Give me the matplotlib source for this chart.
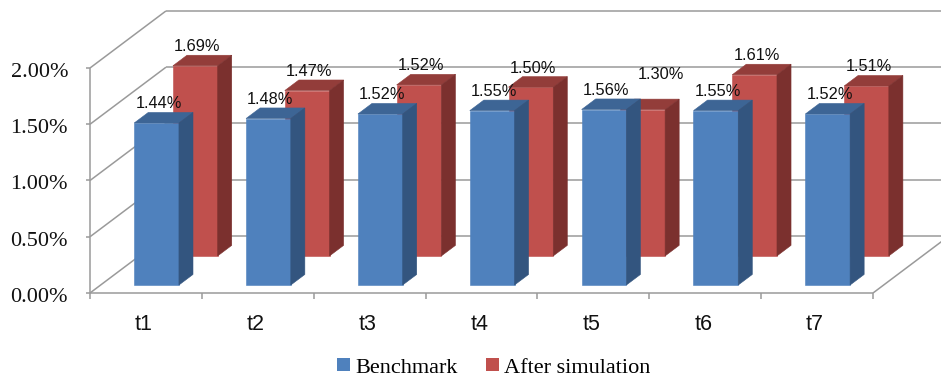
import matplotlib
matplotlib.use('Agg')
import matplotlib.pyplot as plt
from matplotlib.patches import Polygon, Patch

# Values in percent for each period
categories = ['t1', 't2', 't3', 't4', 't5', 't6', 't7']
benchmark = [1.44, 1.48, 1.52, 1.55, 1.56, 1.55, 1.52]
after_sim = [1.69, 1.47, 1.52, 1.50, 1.30, 1.61, 1.51]
y_ticks = [0.0, 0.5, 1.0, 1.5, 2.0]
series_names = ['Benchmark', 'After simulation']

# Oblique 3D look: a point at depth d (0 = front, 1 = back wall)
# is shifted right by DX categories and up by DY percent
DX = 0.679
DY = 0.507
BAR_W = 0.40
BAR_D = 0.185
n = len(categories)

fig = plt.figure(figsize=(9.41, 3.84), dpi=100)
ax = fig.add_axes([0, 0, 1, 1])
ax.set_xlim(-0.8046, 7.6077)
ax.set_ylim(-0.8089, 2.6044)
ax.axis('off')

grid_kw = dict(color='#9a9a9a', lw=1.1, solid_capstyle='butt', zorder=1)

# Back wall gridlines and left wall diagonals
for v in y_ticks:
    ax.plot([DX, n + DX + 1], [v + DY, v + DY], **grid_kw)
    ax.plot([0, DX], [v, v + DY], **grid_kw)

# Floor edges and axes
ax.plot([0, n], [0, 0], **grid_kw)
ax.plot([n, n + DX], [0, DY], **grid_kw)
ax.plot([0, 0], [0, y_ticks[-1]], **grid_kw)

# Tick marks and tick labels
for i in range(n + 1):
    ax.plot([i, i], [0, -6 / 112.5], **grid_kw)
for v in y_ticks:
    ax.plot([0, -4 / 111.86], [v, v], **grid_kw)
    ax.annotate(f'{v:.2f}%', xy=(0, v), xytext=(-22, -9), textcoords='offset pixels',
                ha='right', va='baseline', fontsize=16, family='Liberation Serif',
                color='#111111')

# Category labels under the front edge
for i, cat in enumerate(categories):
    ax.annotate(cat, xy=(i + 0.5, 0), xytext=(-2, -37), textcoords='offset pixels',
                ha='center', va='baseline', fontsize=15.5, family='Liberation Sans',
                color='#111111')


def draw_box(xc, v, d0, front, top, side, z):
    sx = d0 * DX
    sy = d0 * DY
    x0 = xc - BAR_W / 2 + sx
    x1 = xc + BAR_W / 2 + sx
    y0 = sy
    y1 = v + sy
    bx = BAR_D * DX
    by = BAR_D * DY
    faces = [
        ([(x0, y0), (x1, y0), (x1, y1), (x0, y1)], front),
        ([(x0, y1), (x1, y1), (x1 + bx, y1 + by), (x0 + bx, y1 + by)], top),
        ([(x1, y0), (x1 + bx, y0 + by), (x1 + bx, y1 + by), (x1, y1)], side),
    ]
    for pts, c in faces:
        ax.add_patch(Polygon(pts, closed=True, facecolor=c, edgecolor=c, lw=0.4, zorder=z))
    # point just above the back of the top face, used for the value label
    return xc + sx, y1 + by


# Series: (values, depth of front face, front / top / side colours)
series = [
    (after_sim, 0.65, '#c0504d', '#933d3a', '#7b302e'),
    (benchmark, 0.14, '#4f81bd', '#3d6595', '#33557f'),
]
label_nudge = {(0, 4): (16, 16)}

label_pos = []
for s, (vals, d0, fc, tc, sc) in enumerate(series):
    for i, v in enumerate(vals):
        px, py = draw_box(i + 0.5, v, d0, fc, tc, sc, z=3 + s)
        label_pos.append((s, i, px, py, v))

for s, i, px, py, v in label_pos:
    dx, dy = label_nudge.get((s, i), (0, 0))
    ax.annotate(f'{v:.2f}%', xy=(px, py), xytext=(2 + dx, 4 + dy), textcoords='offset pixels',
                ha='center', va='baseline', fontsize=11.8, family='Liberation Sans',
                color='#111111', zorder=10)

handles = [Patch(facecolor='#4f81bd', label=series_names[0]),
           Patch(facecolor='#c0504d', label=series_names[1])]
fig.legend(handles=handles, loc='center', bbox_to_anchor=(0.525, 0.042), ncol=2,
           frameon=False, prop={'family': 'Liberation Serif', 'size': 16},
           handlelength=0.55, handleheight=0.55, handletextpad=0.25, columnspacing=1.3,
           borderpad=0, borderaxespad=0)

fig.savefig('out.png', dpi=100)
